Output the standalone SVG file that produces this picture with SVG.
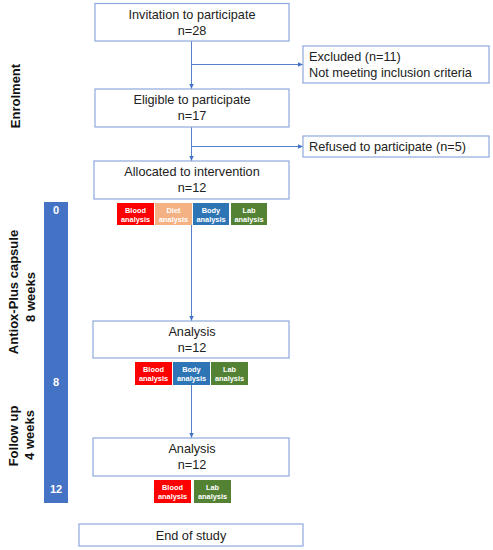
<svg xmlns="http://www.w3.org/2000/svg" width="493" height="550" viewBox="0 0 493 550">
<defs>
<marker id="ah" markerWidth="6" markerHeight="6" refX="5" refY="3" orient="auto" markerUnits="userSpaceOnUse">
<path d="M0,0.8 L5,3 L0,5.2 Z" fill="#4472C4"/>
</marker>
</defs>
<style>
.box{fill:#fff;stroke:#8EA9DB;stroke-width:1.2}
.t{font-family:"Liberation Sans",Arial,sans-serif;font-size:12.7px;fill:#222}
.c{text-anchor:middle}
.lbl{font-family:"Liberation Sans",Arial,sans-serif;font-size:13px;font-weight:bold;fill:#111;text-anchor:middle}
.num{font-family:"Liberation Sans",Arial,sans-serif;font-size:11px;font-weight:bold;fill:#fff;text-anchor:middle}
.ct{font-family:"Liberation Sans",Arial,sans-serif;font-size:7.4px;font-weight:bold;fill:#fff;text-anchor:middle}
.conn{stroke:#4472C4;stroke-width:0.9;fill:none}
</style>
<rect width="493" height="550" fill="#fff"/>

<g id="timeline">
<rect x="44" y="202" width="24" height="301" fill="#4472C4"/>
<text class="num" x="56" y="214">0</text>
<text class="num" x="56" y="386">8</text>
<text class="num" x="56" y="493">12</text>
</g>

<g id="phase-labels">
<text class="lbl" transform="translate(20,96) rotate(-90)">Enrolment</text>
<text class="lbl" transform="translate(18,292) rotate(-90)">Antiox-Plus capsule</text>
<text class="lbl" transform="translate(35,297) rotate(-90)">8 weeks</text>
<text class="lbl" transform="translate(18,436) rotate(-90)">Follow up</text>
<text class="lbl" transform="translate(34,435) rotate(-90)">4 weeks</text>
</g>

<g id="connectors">
<line class="conn" x1="191.5" y1="41" x2="191.5" y2="89" marker-end="url(#ah)"/>
<line class="conn" x1="191.5" y1="64.5" x2="303" y2="64.5" marker-end="url(#ah)"/>
<line class="conn" x1="191.5" y1="127" x2="191.5" y2="161" marker-end="url(#ah)"/>
<line class="conn" x1="191.5" y1="146.5" x2="303" y2="146.5" marker-end="url(#ah)"/>
<line class="conn" x1="191.5" y1="225" x2="191.5" y2="321" marker-end="url(#ah)"/>
<line class="conn" x1="191.5" y1="385" x2="191.5" y2="438" marker-end="url(#ah)"/>
</g>

<g id="invitation">
<rect class="box" x="95" y="3.5" width="194" height="37.5"/>
<text class="t c" x="192" y="19">Invitation to participate</text>
<text class="t c" x="192" y="35">n=28</text>
</g>

<g id="excluded">
<rect class="box" x="303" y="46" width="186" height="37"/>
<text class="t" x="309" y="61">Excluded (n=11)</text>
<text class="t" x="309" y="77">Not meeting inclusion criteria</text>
</g>

<g id="eligible">
<rect class="box" x="95" y="89" width="194" height="38"/>
<text class="t c" x="192" y="104">Eligible to participate</text>
<text class="t c" x="192" y="120">n=17</text>
</g>

<g id="refused">
<rect class="box" x="303" y="136" width="186" height="21"/>
<text class="t" x="309" y="151">Refused to participate (n=5)</text>
</g>

<g id="allocated">
<rect class="box" x="94" y="161" width="195" height="38"/>
<text class="t c" x="192" y="176">Allocated to intervention</text>
<text class="t c" x="192" y="192">n=12</text>
</g>

<g id="tests-0">
<rect x="117" y="203" width="37" height="22" fill="#FF0000"/>
<text class="ct" x="135.5" y="213">Blood</text><text class="ct" x="135.5" y="222">analysis</text>
<rect x="155" y="203" width="37" height="22" fill="#F4B183"/>
<text class="ct" x="173.5" y="213">Diet</text><text class="ct" x="173.5" y="222">analysis</text>
<rect x="193" y="203" width="36" height="22" fill="#2E75B6"/>
<text class="ct" x="211" y="213">Body</text><text class="ct" x="211" y="222">analysis</text>
<rect x="231" y="203" width="36" height="22" fill="#548235"/>
<text class="ct" x="249" y="213">Lab</text><text class="ct" x="249" y="222">analysis</text>
</g>

<g id="analysis-8">
<rect class="box" x="93" y="321" width="196" height="37"/>
<text class="t c" x="192" y="336">Analysis</text>
<text class="t c" x="192" y="352">n=12</text>
</g>

<g id="tests-8">
<rect x="135" y="362" width="37" height="23" fill="#FF0000"/>
<text class="ct" x="153.5" y="372">Blood</text><text class="ct" x="153.5" y="381">analysis</text>
<rect x="173" y="362" width="37" height="23" fill="#2E75B6"/>
<text class="ct" x="191.5" y="372">Body</text><text class="ct" x="191.5" y="381">analysis</text>
<rect x="211" y="362" width="37" height="23" fill="#548235"/>
<text class="ct" x="229.5" y="372">Lab</text><text class="ct" x="229.5" y="381">analysis</text>
</g>

<g id="analysis-12">
<rect class="box" x="93" y="438" width="196" height="38"/>
<text class="t c" x="192" y="453">Analysis</text>
<text class="t c" x="192" y="469">n=12</text>
</g>

<g id="tests-12">
<rect x="154" y="480" width="37" height="23" fill="#FF0000"/>
<text class="ct" x="172.5" y="490">Blood</text><text class="ct" x="172.5" y="499">analysis</text>
<rect x="194" y="480" width="37" height="23" fill="#548235"/>
<text class="ct" x="212.5" y="490">Lab</text><text class="ct" x="212.5" y="499">analysis</text>
</g>

<g id="end">
<rect class="box" x="79" y="524" width="224" height="22"/>
<text class="t c" x="191" y="540">End of study</text>
</g>
</svg>
